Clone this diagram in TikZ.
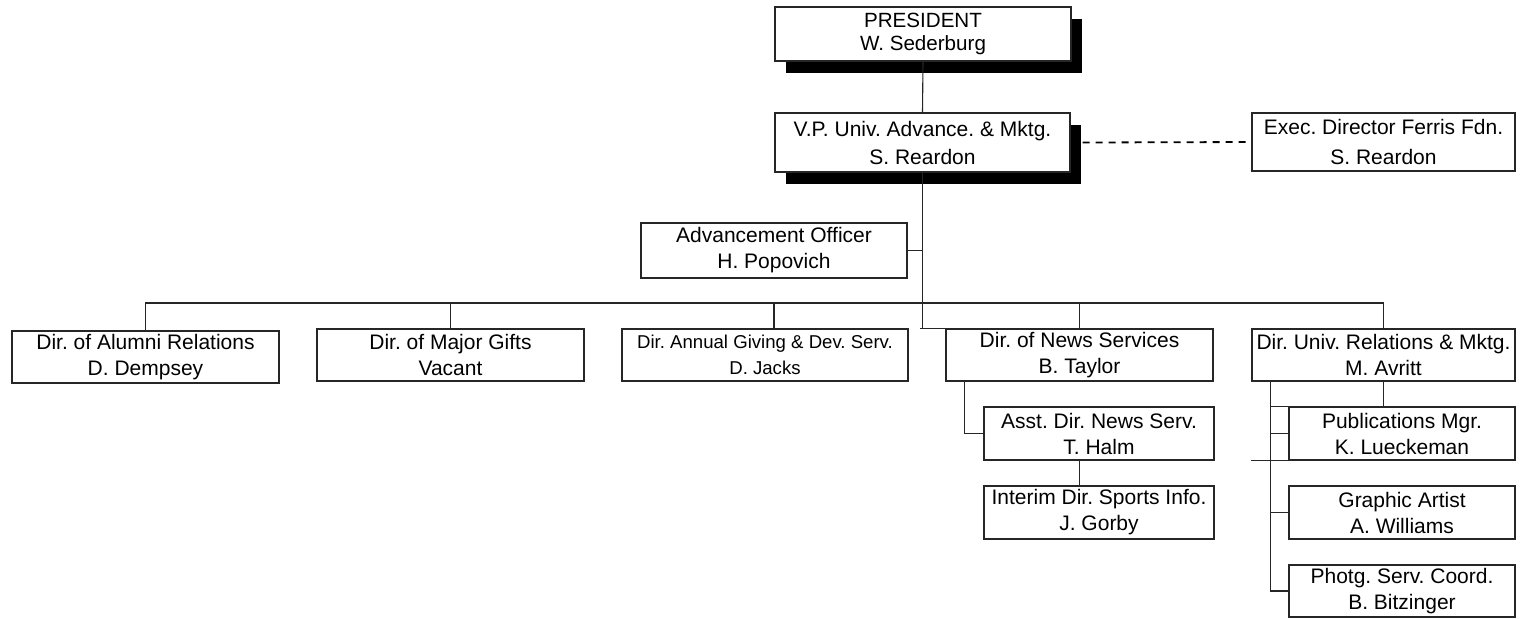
\documentclass[tikz,border=0pt]{standalone}
\usepackage{fontspec}
\setmainfont{Liberation Sans}
\usetikzlibrary{shadows}
\begin{document}
\frenchspacing
\begin{tikzpicture}[x=0.5pt,y=-0.5pt]
\tikzset{
 box/.style={draw=black!85, line width=0.55pt, fill=white, rectangle, inner sep=1pt, align=center, font=\fontsize{10.5}{13}\selectfont},
 sz/.style 2 args={minimum width=#1*0.5pt, minimum height=#2*0.5pt},
 shad/.style={drop shadow={shadow xshift=5.5pt, shadow yshift=-6pt, opacity=1, fill=black}},
 link/.style={draw=black!85, line width=0.55pt},
}
\useasboundingbox (0,0) rectangle (1522,618);
\fill[white] (0,0) rectangle (1522,618);

\node[box,shad,sz={296}{54},font=\fontsize{10.3}{11.5}\selectfont] (pres) at (923,34) {PRESIDENT\\W. Sederburg};
\node[box,shad,sz={295}{59},font=\fontsize{10.5}{14}\selectfont] (vp) at (922.5,142.5) {V.P. Univ. Advance. \& Mktg.\\S. Reardon};
\node[box,sz={263}{58},font=\fontsize{10.5}{15}\selectfont] (exec) at (1383.5,142) {Exec. Director Ferris Fdn.\\S. Reardon};
\node[box,sz={266}{55}] (adv) at (774,250.5) {Advancement Officer\\H. Popovich};
\node[box,sz={267}{52}] (alum) at (145.5,357) {Dir. of Alumni Relations\\D. Dempsey};
\node[box,sz={267}{52}] (major) at (450.5,355) {Dir. of Major Gifts\\Vacant};
\node[box,sz={286}{52},font=\fontsize{9.3}{13}\selectfont] (annual) at (765,355) {Dir. Annual Giving \& Dev. Serv.\\D. Jacks};
\node[box,sz={267}{52}] (news) at (1079.5,355) {Dir. of News Services\\B. Taylor};
\node[box,sz={263}{52}] (univ) at (1383.5,355) {Dir. Univ. Relations \& Mktg.\\M. Avritt};
\node[box,sz={230}{53}] (asst) at (1099,433.5) {Asst. Dir. News Serv.\\T. Halm};
\node[box,sz={230}{53}] (interim) at (1099,512.5) {Interim Dir. Sports Info.\\J. Gorby};
\node[box,sz={226}{53}] (pub) at (1402,433.5) {Publications Mgr.\\K. Lueckeman};
\node[box,sz={226}{53}] (graph) at (1402,512.5) {Graphic Artist\\A. Williams};
\node[box,sz={226}{52}] (photg) at (1402,591) {Photg. Serv. Coord.\\B. Bitzinger};

\coordinate (busy) at (0,303);
\draw[link] (pres.south) -- (vp.north);
\draw[link] (vp.south) -- (vp.south |- news.north);
\draw[link] (adv.east) -- (adv.east -| vp.south);
\draw[link] (alum.north) -- (alum.north |- busy) -- (univ.north |- busy) -- (univ.north);
\draw[link] (major.north) -- (major.north |- busy);
\draw[link] ([xshift=4.5pt]annual.north) -- ([xshift=4.5pt]annual.north |- busy);
\draw[link] (news.north) -- (news.north |- busy);
\draw[link] ([xshift=-1.25pt]vp.south |- news.north) -- (news.north west);
\draw[link] ([xshift=9.5pt]news.south west) |- (asst.west);
\draw[link] (news.south |- asst.south) -- (news.south |- interim.north);
\draw[link] (univ.south) -- (univ.south |- pub.north);
\coordinate (side) at ([xshift=9.5pt]univ.south west);
\draw[link] (side) -- (side |- photg.west) -- (photg.west);
\draw[link] (side |- pub.west) -- (pub.west);
\draw[link] (side |- graph.west) -- (graph.west);
\draw[link] (side |- pub.north west) -- (pub.north west);
\draw[link] (univ.south west |- pub.south west) -- (pub.south west);
\draw[draw=black, line width=0.9pt, dash pattern=on 3.5pt off 3pt] ([xshift=6pt]vp.east) -- (exec.west);
\end{tikzpicture}
\end{document}
